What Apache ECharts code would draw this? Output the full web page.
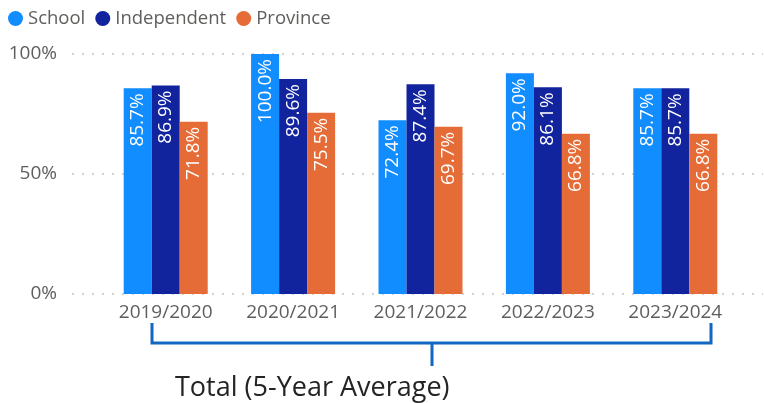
<!DOCTYPE html>
<html>
<head>
<meta charset="utf-8">
<style>html,body{margin:0;padding:0;background:#fff}#c{width:765px;height:403px}</style>
<script src="https://cdn.jsdelivr.net/npm/echarts@6/dist/echarts.min.js"></script>
</head>
<body>
<div id="c"></div>
<script>
const categories = ['2019/2020', '2020/2021', '2021/2022', '2022/2023', '2023/2024'];
const school = [85.7, 100.0, 72.4, 92.0, 85.7];
const independent = [86.9, 89.6, 87.4, 86.1, 85.7];
const province = [71.8, 75.5, 69.7, 66.8, 66.8];
const yTicks = [0, 50, 100];

const FONT = '"Open Sans", "Noto Sans", sans-serif';
const chart = echarts.init(document.getElementById('c'));

function mkSeries(name, data, color) {
  return {
    name, type: 'bar', data, xAxisIndex: 1, yAxisIndex: 1,
    barWidth: 28, barGap: '0%',
    itemStyle: { color },
    label: {
      show: true, position: 'insideTop', rotate: 90, align: 'right', verticalAlign: 'middle',
      distance: 5, color: '#fff', fontSize: 19, fontFamily: FONT,
      formatter: p => p.value.toFixed(1) + '%'
    }
  };
}

chart.setOption({
  animation: false,
  legend: {
    left: 8, top: 9, padding: 0, icon: 'circle', itemWidth: 15, itemHeight: 15, itemGap: 10,
    textStyle: { fontSize: 18.5, color: '#605E5C', fontFamily: FONT },
    data: ['School', 'Independent', 'Province']
  },
  grid: [
    { left: 72, right: 2, top: 54, bottom: 109 },
    { left: 102, right: 26, top: 54, bottom: 109 }
  ],
  xAxis: [
    { type: 'category', gridIndex: 0, data: categories, show: false },
    { type: 'category', gridIndex: 1, data: categories,
      axisLine: { show: false }, axisTick: { show: false },
      axisLabel: { fontSize: 19, color: '#605E5C', fontFamily: FONT, margin: 9 } }
  ],
  yAxis: [
    { type: 'value', gridIndex: 0, min: yTicks[0], max: yTicks[yTicks.length - 1], interval: 50,
      axisLabel: { formatter: v => yTicks.includes(v) ? v + '%' : '', fontSize: 19, color: '#605E5C', fontFamily: FONT, margin: 15 },
      splitLine: { lineStyle: { type: [2, 8], color: '#C8C6C4', width: 1.5 } } },
    { type: 'value', gridIndex: 1, min: 0, max: 100, show: false, splitLine: { show: false } }
  ],
  series: [
    mkSeries('School', school, '#118DFF'),
    mkSeries('Independent', independent, '#12239E'),
    mkSeries('Province', province, '#E66C37')
  ],
  graphic: [
    { type: 'polyline', shape: { points: [[152, 323], [152, 343], [711, 343], [711, 323]] },
      style: { stroke: '#1167C2', lineWidth: 3, fill: null } },
    { type: 'line', shape: { x1: 432, y1: 343, x2: 432, y2: 366 },
      style: { stroke: '#1167C2', lineWidth: 3 } },
    { type: 'text', left: 175, top: 375,
      style: { text: 'Total (5-Year Average)', fontSize: 27, fontFamily: FONT, fill: '#252423' } }
  ]
});
</script>
</body>
</html>
